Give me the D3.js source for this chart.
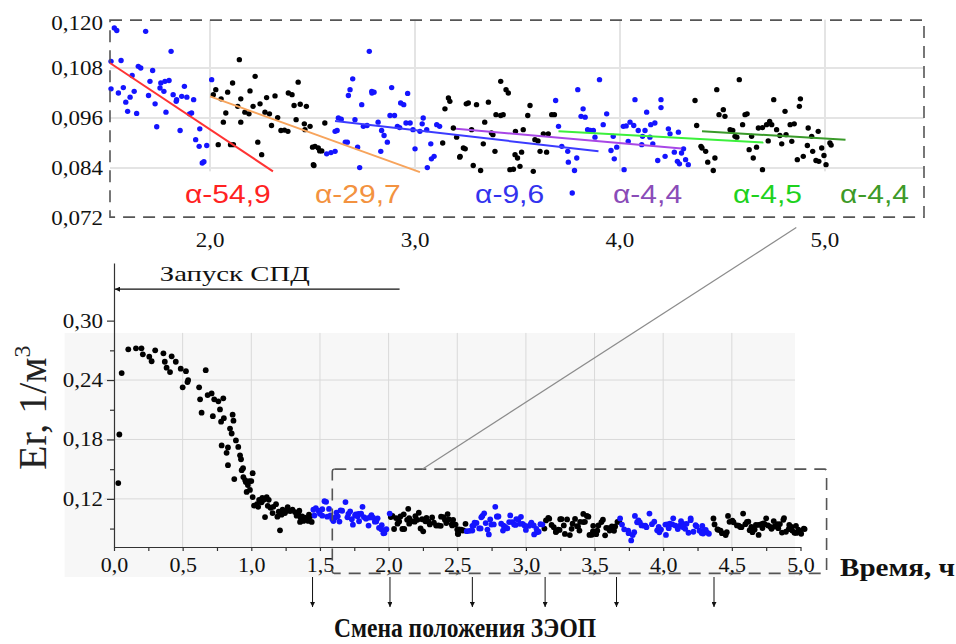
<!DOCTYPE html>
<html>
<head>
<meta charset="utf-8">
<script src="https://cdn.jsdelivr.net/npm/d3@7"></script>
<style>
  body { margin: 0; background: #fff; }
  svg { display: block; }
</style>
</head>
<body>
<div id="chart"></div>
<script>
// ---- data: time (h), Er (1/m3) ----
// engine start-up, black points
var startup = [[0.031,0.136],[0.039,0.185],[0.056,0.247],[0.104,0.271],[0.16,0.272],[0.20,0.272],[0.21,0.266],
  [0.257,0.2636],[0.274,0.259],[0.30,0.27],[0.36,0.267],[0.37,0.2585],[0.383,0.2525],[0.408,0.248],[0.42,0.264],
  [0.45,0.2585],[0.486,0.2515],[0.50,0.2326],[0.524,0.249],[0.535,0.238],[0.54,0.240],[0.62,0.2326],[0.627,0.2205],
  [0.638,0.207],[0.668,0.250],[0.682,0.2248],[0.711,0.2265],[0.72,0.2035],[0.73,0.2205],[0.76,0.2185],[0.772,0.2103],
  [0.78,0.198],[0.784,0.174],[0.796,0.2215],[0.80,0.2015],[0.82,0.1665],[0.83,0.172],[0.83,0.154],[0.845,0.191],
  [0.857,0.186],[0.864,0.205],[0.87,0.199],[0.876,0.140],[0.888,0.179],[0.905,0.1725],[0.918,0.164],[0.925,0.160],
  [0.93,0.149],[0.94,0.151],[0.942,0.142],[0.955,0.139],[0.96,0.137],[0.966,0.127],[0.975,0.134],[0.985,0.138],
  [0.99,0.129],[1.0,0.138],[1.01,0.146],[1.01,0.1218],[1.02,0.1132],[1.04,0.1146],[1.05,0.112],[1.057,0.119],
  [1.075,0.1166],[1.08,0.121],[1.09,0.119],[1.10,0.1016],[1.112,0.1218],[1.12,0.113],[1.127,0.119],[1.14,0.111],
  [1.155,0.1057],[1.16,0.112],[1.18,0.1146],[1.19,0.102],[1.20,0.107],[1.209,0.0882],[1.22,0.104],[1.228,0.109],
  [1.245,0.1057],[1.26,0.108],[1.265,0.1117],[1.283,0.1077],[1.30,0.109],[1.318,0.1067],[1.33,0.103],[1.342,0.1057],
  [1.35,0.108],[1.355,0.0967],[1.36,0.101],[1.37,0.1024],[1.38,0.0977],[1.39,0.101],[1.40,0.100],[1.415,0.0977],
  [1.42,0.104],[1.43,0.1024],[1.44,0.0967]];

// successive image-converter positions (blue / black alternate)
var pos1 = [[1.452,0.109],[1.46,0.1032],[1.47,0.1106],[1.49,0.108],[1.50,0.105],
  [1.533,0.1176],[1.545,0.117],[1.686,0.1168],[1.81,0.112],[1.517,0.1096],[1.566,0.1098],[1.65,0.1084],[1.662,0.108],
  [1.72,0.1074],[1.62,0.1062],[1.707,0.1048],[1.76,0.1044],[1.78,0.1048],[1.80,0.105],[1.875,0.1036],[1.517,0.103],
  [1.553,0.102],[1.577,0.1033],[1.63,0.1024],[1.70,0.1014],[1.756,0.1032],[1.775,0.1024],[1.82,0.1016],[1.837,0.1004],
  [1.835,0.100],[1.862,0.1012],[1.887,0.101],[1.92,0.1004],[1.589,0.0998],[1.61,0.101],[1.732,0.0994],[1.598,0.0976],
  [1.642,0.0971],[1.785,0.0974],[1.90,0.097],[1.91,0.0972],[1.74,0.0939],[1.854,0.093],[1.95,0.0934],[1.93,0.0908],
  [1.947,0.0892],[1.984,0.0894],[1.962,0.0852],[1.97,0.0855],[2.008,0.1052]];
var pos2 = [[2.143,0.110],[2.22,0.106],[2.11,0.1044],[2.028,0.1028],[2.016,0.1016],[2.054,0.1006],[2.086,0.1022],
  [2.195,0.1025],[2.15,0.1006],[2.135,0.0988],[2.21,0.0988],[2.244,0.0994],[2.276,0.1009],[2.317,0.1013],[2.382,0.102],
  [2.40,0.1016],[2.43,0.1046],[2.41,0.099],[2.44,0.0993],[2.47,0.0988],[2.077,0.0972],[2.17,0.0974],[2.19,0.097],
  [2.268,0.0974],[2.29,0.097],[2.33,0.0961],[2.065,0.095],[2.15,0.095],[2.30,0.0942],[2.346,0.093],[2.363,0.0931],
  [2.38,0.0928],[2.42,0.0956],[2.46,0.0946],[2.463,0.0932],[2.04,0.0896],[2.10,0.0896],[2.114,0.0896],[2.233,0.0902],
  [2.252,0.0872],[2.50,0.089],[2.504,0.0848],[2.488,0.094],[2.56,0.0948],[2.512,0.0892],[2.528,0.0888],[2.535,0.0881],
  [2.545,0.0881],[2.507,0.0846]];
var pos3 = [[2.777,0.112],[2.696,0.1054],[2.683,0.1028],[2.675,0.1014],[2.789,0.1024],[2.80,0.1022],[2.79,0.102],
  [2.886,0.1033],[2.964,0.1019],[2.74,0.0992],[2.93,0.0996],[2.945,0.0992],[2.878,0.0966],[2.90,0.0966],[2.626,0.096],
  [2.64,0.0957],[2.707,0.0956],[2.748,0.094],[2.766,0.0942],[2.82,0.095],[2.837,0.093],[2.849,0.0918],[2.865,0.0902],
  [2.914,0.094],[2.925,0.0937],[2.956,0.0948],[2.976,0.0948],[2.99,0.0932],[3.024,0.0928],[3.04,0.096],[3.035,0.0946],
  [3.057,0.0932],[3.106,0.0944],[3.12,0.094],[2.61,0.0928],[2.62,0.093],[2.66,0.0902],[2.67,0.0902],[2.72,0.089],
  [2.833,0.088],[2.569,0.0874],[2.59,0.0877],[2.61,0.088],[2.73,0.0841],[3.0,0.0886],[3.077,0.0898],[3.093,0.0868],
  [3.08,0.0862],[3.06,0.0841]];
var pos4 = [[3.146,0.0982],[3.163,0.1008],[3.17,0.100],[3.25,0.0994],[3.26,0.0996],[3.30,0.0992],[3.358,0.0998],
  [3.418,0.1048],[3.444,0.1028],[3.455,0.102],[3.395,0.0968],[3.418,0.0966],[3.43,0.0968],[3.34,0.095],[3.276,0.0932],
  [3.333,0.0898],[3.373,0.0924],[3.38,0.092],[3.187,0.0936],[3.203,0.0914],[3.135,0.090],[3.236,0.0888],[3.245,0.0886],
  [3.22,0.0868],[3.218,0.0866],[3.284,0.0846],[3.32,0.0834],[3.39,0.088],[3.463,0.0836],[3.48,0.0837],[3.488,0.0872],
  [3.49,0.0928],[3.528,0.0932],[3.55,0.0966],[3.561,0.099],[3.52,0.0878],[3.50,0.0864],[3.512,0.0844],[3.585,0.0908],
  [3.60,0.0905],[3.61,0.088],[3.642,0.0878],[3.626,0.0922],[3.65,0.0922],[3.667,0.0968],[3.68,0.0968],[3.577,0.0832]];
var pos5 = [[3.90,0.1052],[3.794,0.1028],[3.686,0.1002],[3.82,0.0982],[3.935,0.097],[3.81,0.0964],[3.83,0.0962],
  [3.70,0.094],[3.918,0.0944],[3.842,0.0932],[3.855,0.093],[3.87,0.093],[3.878,0.0914],[3.967,0.0916],[4.073,0.1004],
  [4.20,0.1004],[4.20,0.0985],[4.13,0.0974],[4.016,0.094],[4.03,0.0941],[4.049,0.095],[4.067,0.0942],[4.089,0.093],
  [4.11,0.0916],[4.122,0.093],[4.15,0.0944],[4.17,0.0948],[4.146,0.0914],[4.236,0.0934],[4.285,0.0926],[4.244,0.0922],
  [4.04,0.0904],[4.106,0.0896],[4.16,0.0898],[3.984,0.089],[3.956,0.0882],[3.745,0.088],[3.716,0.0892],[3.789,0.0864],
  [3.748,0.0854],[3.778,0.0834],[3.767,0.078],[3.972,0.0862],[4.02,0.0836],[4.184,0.0858],[4.22,0.0868],[4.265,0.0878],
  [4.28,0.0856],[4.30,0.0876],[4.31,0.0886],[4.32,0.086],[4.333,0.0848],[4.29,0.085]];
var pos6 = [[4.366,0.1002],[4.374,0.0942],[4.395,0.0892],[4.40,0.0888],[4.418,0.088],[4.428,0.0854],[4.455,0.0834],
  [4.463,0.0864],[4.472,0.1028],[4.483,0.0968],[4.582,0.1052],[4.504,0.098],[4.512,0.0964],[4.537,0.0932],[4.55,0.093],
  [4.561,0.0916],[4.57,0.0914],[4.598,0.0944],[4.61,0.0968],[4.62,0.097],[4.642,0.0916],[4.666,0.089],[4.63,0.0884],
  [4.65,0.0864],[4.695,0.0836],[4.675,0.0936],[4.695,0.0937],[4.715,0.0944],[4.73,0.0952],[4.74,0.0944],[4.723,0.0905],
  [4.75,0.1004],[4.764,0.0932],[4.78,0.0918],[4.789,0.0898],[4.805,0.0976],[4.81,0.092],[4.83,0.0944],[4.85,0.0946],
  [4.838,0.0904],[4.875,0.0988],[4.88,0.1006],[4.865,0.086],[4.894,0.0868],[4.914,0.0894],[4.918,0.0936],[4.935,0.0916],
  [4.94,0.088],[4.967,0.0928],[4.956,0.0858],[4.97,0.0856],[4.984,0.0888],[4.995,0.087],[5.005,0.0848],[5.024,0.090],
  [5.03,0.0895]];

var blueSeries = [pos1, pos3, pos5];
var blackSeries = [startup, pos2, pos4, pos6];

// moments when the converter position was changed
var changeTimes = [1.446, 2.01, 2.61, 3.14, 3.66, 4.37];

// fitted trend lines in the inset
var trendT0 = [1.512, 2.0, 2.61, 3.2, 3.70, 4.40];
var trendV0 = [0.1092, 0.1012, 0.0953, 0.0934, 0.0928, 0.0928];
var trendT1 = [2.307, 3.024, 3.895, 4.30, 4.70, 5.10];
var trendV1 = [0.0832, 0.0830, 0.0880, 0.0887, 0.0901, 0.0908];
var trendLabels = ["α-54,9", "α-29,7", "α-9,6", "α-4,4", "α-4,5", "α-4,4"];
var labelT = [1.878, 2.512, 3.293, 3.966, 4.551, 5.073];
var labelV = 0.0757;
var trendColors = ["#ff3333", "#f7a45c", "#3b3bff", "#a847e6", "#3cf03c", "#3a9a2a"];
var labelColors = ["#ff2222", "#f39240", "#3333ee", "#8a4cb8", "#1ed21e", "#3d9a28"];

// ticks
var insetTicksX = [2, 3, 4, 5];
var insetTicksY = [0.120, 0.108, 0.096, 0.084, 0.072];
var insetGridY = [0.108, 0.096, 0.084];
var mainTicksX = d3.range(0, 5.001, 0.25);
var mainTicksY = [0.09, 0.12, 0.15, 0.18, 0.21, 0.24, 0.27, 0.30];
var mainGridX = [0.5, 1, 1.5, 2, 2.5, 3, 3.5, 4, 4.5];
var mainGridY = [0.12, 0.18, 0.24];

var serif = "'Liberation Serif', 'Times New Roman', serif";
var sans = "'Liberation Sans', Arial, sans-serif";
var comma = function (d, n) { return d3.format("." + n + "f")(d).replace(".", ","); };

function widen(sel, k) {
    sel.each(function () {
        var w = this.getComputedTextLength();
        d3.select(this).attr("textLength", w * k).attr("lengthAdjust", "spacingAndGlyphs");
    });
}

var svg = d3.select("#chart").append("svg")
    .attr("width", 956)
    .attr("height", 644);

var defs = svg.append("defs");
defs.append("marker")
    .attr("id", "arrow")
    .attr("viewBox", "0 -5 10 10")
    .attr("refX", 10)
    .attr("markerWidth", 7)
    .attr("markerHeight", 5)
    .attr("markerUnits", "userSpaceOnUse")
    .attr("orient", "auto-start-reverse")
    .append("path")
    .attr("d", "M0,-5L10,0L0,5Z")
    .attr("fill", "#111");

////////////////////////////////////////////////
// inset (zoomed 1.5 - 5.5 h)
var xIns = d3.scaleLinear().domain([1.512, 5.483]).range([110, 924]);
var yIns = d3.scaleLinear().domain([0.072, 0.120]).range([218, 18]);

var inset = svg.append("g");

inset.selectAll(".hgrid").data(insetGridY).enter().append("line")
    .attr("x1", xIns(1.512)).attr("x2", xIns(5.483))
    .attr("y1", yIns).attr("y2", yIns)
    .attr("stroke", "#e4e4e4").attr("stroke-width", 2);

inset.selectAll(".vgrid").data(insetTicksX).enter().append("line")
    .attr("x1", xIns).attr("x2", xIns)
    .attr("y1", yIns(0.1196)).attr("y2", yIns(0.0832))
    .attr("stroke", "#e4e4e4").attr("stroke-width", 2);

blackSeries.concat(blueSeries).forEach(function (s, i) {
    var col = i < blackSeries.length ? "#000" : "#1414ff";
    inset.append("g").selectAll("circle")
        .data(s.filter(function (d) { return d[0] >= 1.512; }))
        .enter().append("circle")
        .attr("cx", function (d) { return xIns(d[0]); })
        .attr("cy", function (d) { return yIns(d[1]); })
        .attr("r", 2.7)
        .attr("fill", col);
});

trendT0.forEach(function (t, i) {
    inset.append("line")
        .attr("x1", xIns(t)).attr("y1", yIns(trendV0[i]))
        .attr("x2", xIns(trendT1[i])).attr("y2", yIns(trendV1[i]))
        .attr("stroke", trendColors[i]).attr("stroke-width", 2);
});

inset.selectAll(".alab").data(trendLabels).enter().append("text")
    .attr("x", function (d, i) { return xIns(labelT[i]); })
    .attr("y", yIns(labelV))
    .attr("fill", function (d, i) { return labelColors[i]; })
    .style("font-family", sans).style("font-size", "25px")
    .text(function (d) { return d; })
    .call(widen, 1.2);

inset.append("rect")
    .attr("x", xIns(1.512)).attr("y", yIns(0.1195))
    .attr("width", xIns(5.483) - xIns(1.512))
    .attr("height", yIns(0.0722) - yIns(0.1195))
    .attr("fill", "none").attr("stroke", "#555")
    .attr("stroke-width", 1.6).attr("stroke-dasharray", "12,8");

inset.selectAll(".ylab").data(insetTicksY).enter().append("text")
    .attr("x", 103)
    .attr("y", function (d) { return Math.max(yIns(d) + 7, 29.5); })
    .attr("text-anchor", "end")
    .style("font-family", serif).style("font-size", "20px").attr("fill", "#111")
    .text(function (d) { return comma(d, 3); })
    .call(widen, 1.15);

inset.selectAll(".xlab").data(insetTicksX).enter().append("text")
    .attr("x", xIns).attr("y", 247)
    .attr("text-anchor", "middle")
    .style("font-family", serif).style("font-size", "20px").attr("fill", "#111")
    .text(function (d) { return comma(d, 1); })
    .call(widen, 1.15);

////////////////////////////////////////////////
// main chart
var xMain = d3.scaleLinear().domain([0, 5]).range([114, 800.5]);
var yMain = d3.scaleLinear().domain([0.0714, 0.3582]).range([547, 263]);

var main = svg.append("g");

main.append("rect")
    .attr("x", xMain(-0.36)).attr("y", yMain(0.2876))
    .attr("width", xMain(4.96) - xMain(-0.36))
    .attr("height", yMain(0.041) - yMain(0.2876))
    .attr("fill", "#f7f7f7");

main.selectAll(".vg").data(mainGridX).enter().append("line")
    .attr("x1", xMain).attr("x2", xMain)
    .attr("y1", yMain(0.2876)).attr("y2", yMain(0.0714))
    .attr("stroke", "#d9d9d9").attr("stroke-width", 1);

main.selectAll(".hg").data(mainGridY).enter().append("line")
    .attr("x1", xMain(-0.07)).attr("x2", xMain(4.96))
    .attr("y1", yMain).attr("y2", yMain)
    .attr("stroke", "#d9d9d9").attr("stroke-width", 1);

blackSeries.concat(blueSeries).forEach(function (s, i) {
    var col = i < blackSeries.length ? "#000" : "#1414ff";
    main.append("g").selectAll("circle")
        .data(s).enter().append("circle")
        .attr("cx", function (d) { return xMain(d[0]); })
        .attr("cy", function (d) { return yMain(d[1]); })
        .attr("r", 2.9)
        .attr("fill", col);
});

var xAxis = d3.axisBottom(xMain)
    .tickValues(mainTicksX)
    .tickSize(4).tickSizeOuter(0).tickPadding(7)
    .tickFormat(function (d) { return Math.abs(d * 2 - Math.round(d * 2)) < 1e-6 ? comma(d, 1) : ""; });
var gx = main.append("g").attr("transform", "translate(0," + yMain(0.0714) + ")").call(xAxis);
gx.selectAll("text").style("font-family", serif).style("font-size", "20px").attr("fill", "#111")
    .filter(function () { return this.textContent !== ""; }).call(widen, 1.1);

var yAxis = d3.axisLeft(yMain)
    .tickValues(mainTicksY)
    .tickSize(7).tickSizeOuter(0).tickPadding(4)
    .tickFormat(function (d) { return Math.round(d * 100) % 6 === 0 ? comma(d, 2) : ""; });
var gy = main.append("g").attr("transform", "translate(" + xMain(0) + ",0)").call(yAxis);
gy.selectAll(".tick").filter(function (d) { return Math.round(d * 100) % 6 !== 0; })
    .select("line").attr("x2", -4);
gy.selectAll("text").style("font-family", serif).style("font-size", "20px").attr("fill", "#111")
    .filter(function () { return this.textContent !== ""; }).call(widen, 1.15);

[gx, gy].forEach(function (g) {
    g.selectAll("path, line").attr("stroke", "#333").attr("stroke-width", 1.2);
});

// zoom frame and link to inset
main.append("rect")
    .attr("x", xMain(1.59)).attr("y", yMain(0.150))
    .attr("width", xMain(5.19) - xMain(1.59))
    .attr("height", yMain(0.0448) - yMain(0.150))
    .attr("rx", 2)
    .attr("fill", "none").attr("stroke", "#555")
    .attr("stroke-width", 1.6).attr("stroke-dasharray", "12,8");

svg.append("line")
    .attr("x1", xMain(2.245)).attr("y1", yMain(0.150))
    .attr("x2", xIns(4.86)).attr("y2", yIns(0.0697))
    .attr("stroke", "#8c8c8c").attr("stroke-width", 1.2);

// start-up annotation
main.append("line")
    .attr("x1", xMain(2.08)).attr("y1", yMain(0.3318))
    .attr("x2", xMain(0) + 1).attr("y2", yMain(0.3318))
    .attr("stroke", "#111").attr("stroke-width", 1.4)
    .attr("marker-end", "url(#arrow)");
main.append("text")
    .attr("x", xMain(0.88)).attr("y", yMain(0.3318) - 8)
    .attr("text-anchor", "middle")
    .style("font-family", serif).style("font-size", "21px").attr("fill", "#111")
    .attr("textLength", 150).attr("lengthAdjust", "spacingAndGlyphs")
    .text("Запуск СПД");

// position change arrows
main.selectAll(".chg").data(changeTimes).enter().append("line")
    .attr("x1", xMain).attr("x2", xMain)
    .attr("y1", 577).attr("y2", 607)
    .attr("stroke", "#111").attr("stroke-width", 1)
    .attr("marker-end", "url(#arrow)");

main.append("text")
    .attr("x", 465).attr("y", 637)
    .attr("text-anchor", "middle")
    .style("font-family", serif).style("font-size", "27px").style("font-weight", "bold").attr("fill", "#111")
    .attr("textLength", 262).attr("lengthAdjust", "spacingAndGlyphs")
    .text("Смена положения ЗЭОП");

main.append("text")
    .attr("x", 840).attr("y", 576)
    .style("font-family", serif).style("font-size", "26px").style("font-weight", "bold").attr("fill", "#111")
    .attr("textLength", 115).attr("lengthAdjust", "spacingAndGlyphs")
    .text("Время, ч");

// y axis title
var yt = main.append("text")
    .attr("transform", "translate(46,470) rotate(-90)")
    .style("font-family", serif).style("font-size", "40px").attr("fill", "#222");
yt.append("tspan").text("Er,  1/м");
yt.append("tspan").attr("dy", -16).style("font-size", "24px").text("3");
</script>
</body>
</html>
